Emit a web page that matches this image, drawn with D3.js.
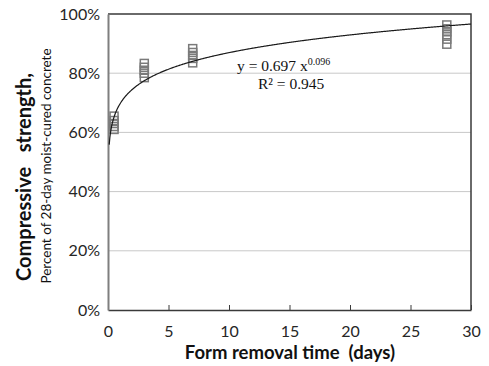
<!DOCTYPE html>
<html>
<head>
<meta charset="utf-8">
<script src="https://cdn.jsdelivr.net/npm/d3@7"></script>
<style>
  html, body { margin: 0; padding: 0; background: #fff; }
  svg { display: block; }
</style>
</head>
<body>
<svg id="chart" width="489" height="366"></svg>
<script>
// Measured strength of form-removed specimens, grouped by removal age
const days0_5 = [61, 62, 63, 64, 65.5];
const days3 = [78.5, 80, 81, 82, 83.3];
const days7 = [83.5, 85, 86, 87, 88.3];
const days28 = [89.8, 91.5, 93, 94, 95, 96.3];
const removalDays = [0.5, 3, 7, 28];
const strengthGroups = [days0_5, days3, days7, days28];

// Power trendline y = a * x^b
const fitA = 0.697;
const fitB = 0.096;
const fitR2 = 0.945;

const xTicks = [0, 5, 10, 15, 20, 25, 30];
const yTicks = [0, 0.2, 0.4, 0.6, 0.8, 1.0];

const svg = d3.select("#chart");
const margin = { left: 108, top: 14, right: 489 - 471, bottom: 366 - 310 };
const W = 489 - margin.left - margin.right;
const H = 366 - margin.top - margin.bottom;

const x = d3.scaleLinear().domain([0, 30]).range([margin.left, margin.left + W]);
const y = d3.scaleLinear().domain([0, 1]).range([margin.top + H, margin.top]);

const tickFont = "Lato, 'Open Sans', sans-serif";

// horizontal gridlines
svg.append("g")
  .selectAll("line")
  .data(yTicks.filter(t => t > 0 && t < 1))
  .join("line")
  .attr("x1", x(0)).attr("x2", x(30))
  .attr("y1", d => y(d)).attr("y2", d => y(d))
  .attr("stroke", "#c8c8c8").attr("stroke-width", 1);

// frame: top and right edges
svg.append("path")
  .attr("d", `M${x(0)},${y(1)}H${x(30)}V${y(0)}`)
  .attr("fill", "none").attr("stroke", "#3a3a3a").attr("stroke-width", 1.5);

// x axis
const xAxis = d3.axisBottom(x).tickValues(xTicks).tickSizeInner(-5).tickSizeOuter(0).tickPadding(16);
const gx = svg.append("g").attr("transform", `translate(0,${y(0)})`).call(xAxis);
gx.select(".domain").attr("stroke", "#3a3a3a").attr("stroke-width", 1.5);
gx.selectAll(".tick line").attr("stroke", "#3a3a3a");
gx.selectAll(".tick text").attr("font-family", tickFont).attr("font-size", 16).attr("fill", "#262626");

// y axis
const yAxis = d3.axisLeft(y).tickValues(yTicks).tickSize(0).tickPadding(8).tickFormat(d3.format(".0%"));
const gy = svg.append("g").attr("transform", `translate(${x(0)},0)`).call(yAxis);
gy.select(".domain").attr("stroke", "#7f7f7f").attr("stroke-width", 2);
gy.selectAll(".tick text").attr("font-family", tickFont).attr("font-size", 16).attr("fill", "#262626");

// data markers: open grey squares
const points = [];
removalDays.forEach((d, i) => strengthGroups[i].forEach(v => points.push({ d, v: v / 100 })));
const ms = 8;
svg.append("g")
  .selectAll("rect")
  .data(points)
  .join("rect")
  .attr("x", p => x(p.d) - ms / 2)
  .attr("y", p => y(p.v) - ms / 2)
  .attr("width", ms).attr("height", ms)
  .attr("fill", "none")
  .attr("stroke", "#7a7a7a").attr("stroke-width", 1.5);

// trendline
const fitX = d3.range(0.1, 30.001, 0.05);
const line = d3.line().x(t => x(t)).y(t => y(fitA * Math.pow(t, fitB))).curve(d3.curveLinear);
svg.append("path")
  .attr("d", line(fitX))
  .attr("fill", "none").attr("stroke", "#1a1a1a").attr("stroke-width", 1.2);

// equation label
const eq = svg.append("text")
  .attr("x", 237).attr("y", 71)
  .attr("font-family", "'Liberation Serif', 'Times New Roman', serif")
  .attr("font-size", 15.5).attr("fill", "#111");
eq.append("tspan").text(`y = ${fitA} x`);
eq.append("tspan").attr("dy", -6).attr("font-size", 10).text(fitB);

const r2 = svg.append("text")
  .attr("x", 258).attr("y", 89)
  .attr("font-family", "'Liberation Serif', 'Times New Roman', serif")
  .attr("font-size", 15.5).attr("fill", "#111");
r2.text(`R² = ${fitR2}`);

// axis titles
svg.append("text")
  .attr("x", 290).attr("y", 359)
  .attr("text-anchor", "middle")
  .attr("font-family", tickFont).attr("font-weight", "bold")
  .attr("font-size", 18.5).attr("fill", "#111")
  .attr("xml:space", "preserve")
  .text("Form removal time  (days)");

svg.append("text")
  .attr("transform", "translate(31,177) rotate(-90)")
  .attr("text-anchor", "middle")
  .attr("font-family", tickFont).attr("font-weight", "bold")
  .attr("font-size", 20).attr("fill", "#111")
  .attr("xml:space", "preserve")
  .text("Compressive   strength,");

svg.append("text")
  .attr("transform", "translate(51,166) rotate(-90)")
  .attr("text-anchor", "middle")
  .attr("font-family", tickFont)
  .attr("font-size", 13.5).attr("fill", "#111")
  .text("Percent of 28-day moist-cured concrete");
</script>
</body>
</html>
